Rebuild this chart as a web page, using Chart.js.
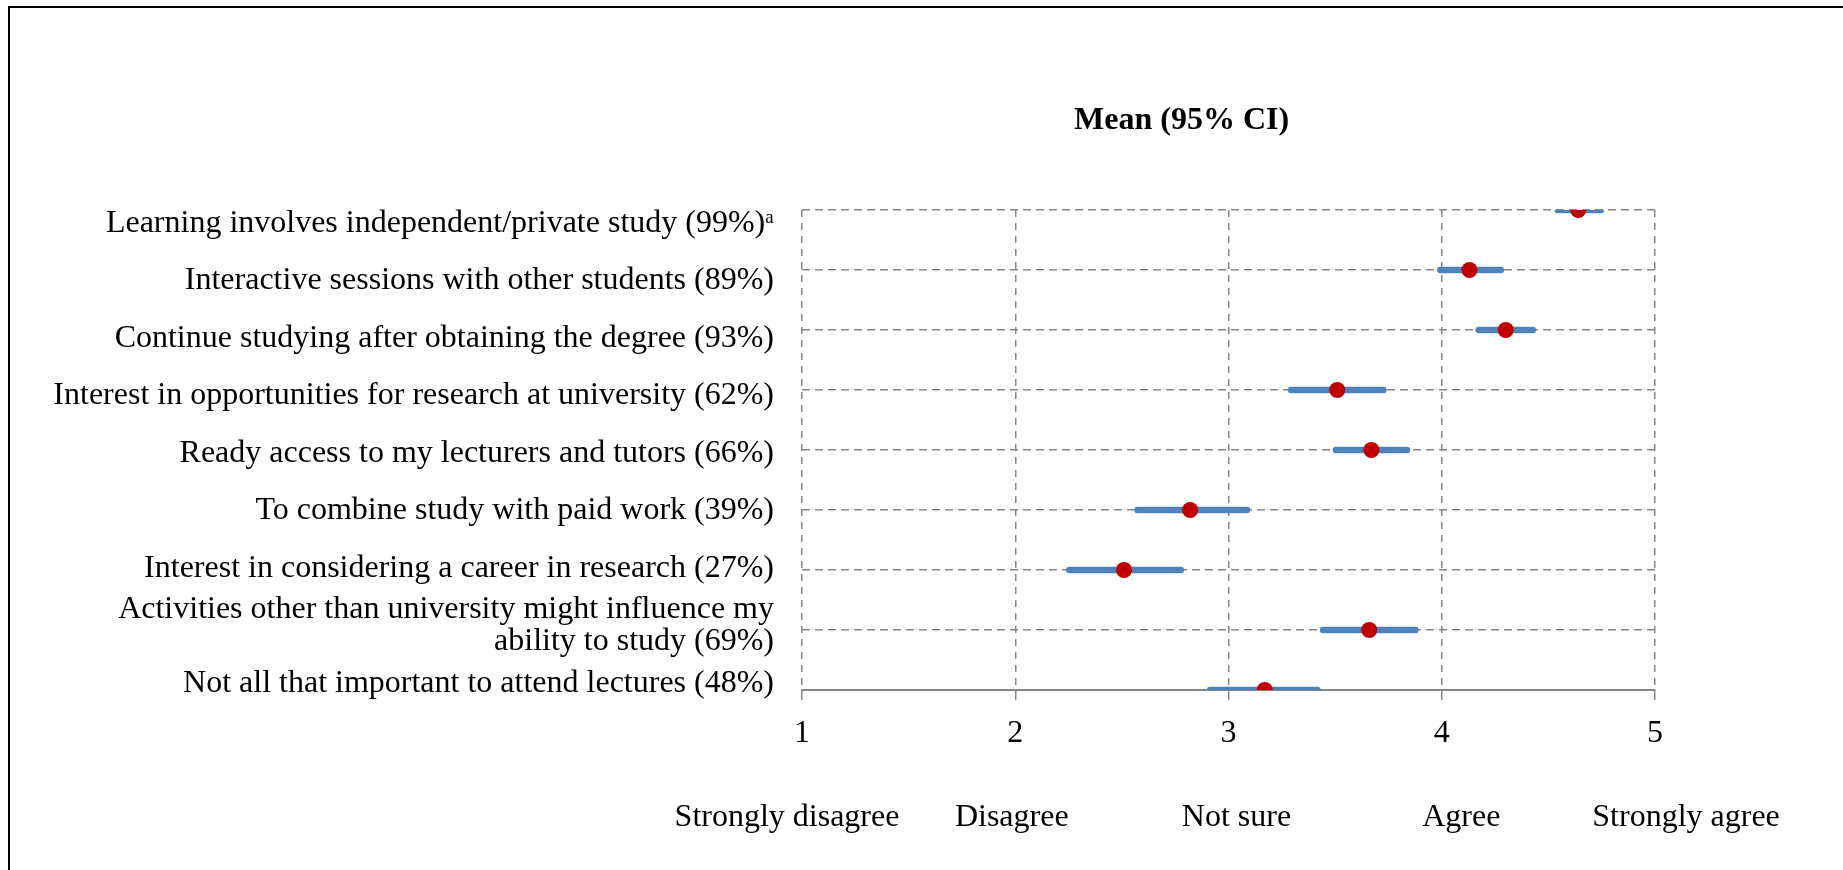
<!DOCTYPE html>
<html>
<head>
<meta charset="utf-8">
<script src="https://cdn.jsdelivr.net/npm/chart.js@4"></script>
<style>
  html, body { margin: 0; padding: 0; background: #fff; overflow: hidden; }
  #wrap { position: relative; width: 1843px; height: 870px; }
  #chart { position: absolute; left: 0; top: 0; }
  #frame { position: absolute; left: 8px; top: 6px; right: -10px; bottom: -10px;
           border-left: 2px solid #000; border-top: 2px solid #000; pointer-events: none; }
</style>
</head>
<body>
<div id="wrap">
  <canvas id="chart" width="1843" height="870"></canvas>
  <div id="frame"></div>
</div>
<script>
// survey items, listed top to bottom
const items = [
  "Learning involves independent/private study (99%)ᵃ",
  "Interactive sessions with other students (89%)",
  "Continue studying after obtaining the degree (93%)",
  "Interest in opportunities for research at university (62%)",
  "Ready access to my lecturers and tutors (66%)",
  "To combine study with paid work (39%)",
  "Interest in considering a career in research (27%)",
  ["Activities other than university might influence my", "ability to study (69%)"],
  "Not all that important to attend lectures (48%)",
];
const means = [4.64, 4.13, 4.30, 3.51, 3.67, 2.82, 2.51, 3.66, 3.17];
const ciLow = [4.53, 3.98, 4.16, 3.28, 3.49, 2.56, 2.24, 3.43, 2.90];
const ciHigh = [4.76, 4.29, 4.44, 3.74, 3.85, 3.10, 2.79, 3.89, 3.43];
const scaleTicks = [1, 2, 3, 4, 5];
const agreementWords = ["Strongly disagree", "Disagree", "Not sure", "Agree", "Strongly agree"];
const chartTitle = "Mean (95% CI)";

const SERIF = "'Liberation Serif', 'Times New Roman', serif";
const GRID = "#868686";

Chart.defaults.font.family = SERIF;
Chart.defaults.font.size = 32;
Chart.defaults.color = "#000";

// row index -> y value (top row sits highest)
const rowY = (i) => items.length - i;

// title above the plot and the verbal scale under the numbers
const annotations = {
  id: "annotations",
  afterDraw(chart) {
    const { ctx, chartArea } = chart;
    const x = chart.scales.x;
    ctx.save();
    ctx.fillStyle = "#000";
    ctx.textAlign = "center";
    ctx.textBaseline = "middle";

    ctx.font = "bold 32px " + SERIF;
    ctx.fillText(chartTitle, x.getPixelForValue(2.78), chartArea.top - 89);

    ctx.font = "32px " + SERIF;
    const unit = x.getPixelForValue(2) - x.getPixelForValue(1);
    const start = x.getPixelForValue(scaleTicks[0]) - 15;
    agreementWords.forEach((w, i) => {
      ctx.fillText(w, start + i * unit * 1.054, chartArea.bottom + 128);
    });
    ctx.restore();
  },
};

new Chart(document.getElementById("chart"), {
  type: "bar",
  data: {
    datasets: [
      {
        type: "scatter",
        label: "Mean",
        data: means.map((m, i) => ({ x: m, y: rowY(i) })),
        backgroundColor: "#C00000",
        borderWidth: 0,
        pointRadius: 8,
        pointHoverRadius: 8,
        order: 1,
      },
      {
        type: "bar",
        label: "95% CI",
        indexAxis: "y",
        data: items.map((_, i) => ({ x: [ciLow[i], ciHigh[i]], y: rowY(i) })),
        backgroundColor: "#4F81BD",
        barThickness: 6,
        borderRadius: 3,
        borderSkipped: false,
        order: 2,
      },
    ],
  },
  options: {
    responsive: false,
    animation: false,
    events: [],
    layout: { padding: { top: 210, right: 188, left: 0, bottom: 0 } },
    plugins: { legend: { display: false }, title: { display: false }, tooltip: { enabled: false } },
    scales: {
      x: {
        type: "linear",
        min: scaleTicks[0],
        max: scaleTicks[scaleTicks.length - 1],
        offset: false,
        ticks: { stepSize: 1, padding: 14, color: "#000", autoSkip: false },
        grid: { offset: false, color: GRID, lineWidth: 1.5, tickLength: 10, tickColor: GRID, tickWidth: 1.5 },
        border: { display: true, color: GRID, width: 2, dash: [7, 6] },
        afterFit(scale) { scale.height = 180; },
      },
      // row grid lines
      y: {
        type: "linear",
        position: "left",
        min: 1,
        max: items.length,
        offset: false,
        ticks: { stepSize: 1, autoSkip: false, display: false },
        grid: { offset: false, color: GRID, lineWidth: 1.5, drawTicks: false },
        border: { display: false, dash: [8, 5] },
        afterFit(scale) { scale.width = 0; },
      },
      // item labels, spaced a little tighter than the rows
      yLabels: {
        type: "linear",
        position: "left",
        min: 0.887,
        max: items.length + 0.235,
        offset: false,
        ticks: {
          stepSize: 1,
          autoSkip: false,
          includeBounds: false,
          padding: 28,
          color: "#000",
          font: { size: 32, lineHeight: 1.0 },
          callback: (v) => items[items.length - v] || "",
        },
        grid: { display: false, drawTicks: false },
        border: { display: false },
        afterFit(scale) { scale.width = 802; },
      },
    },
  },
  plugins: [annotations],
});
</script>
</body>
</html>
